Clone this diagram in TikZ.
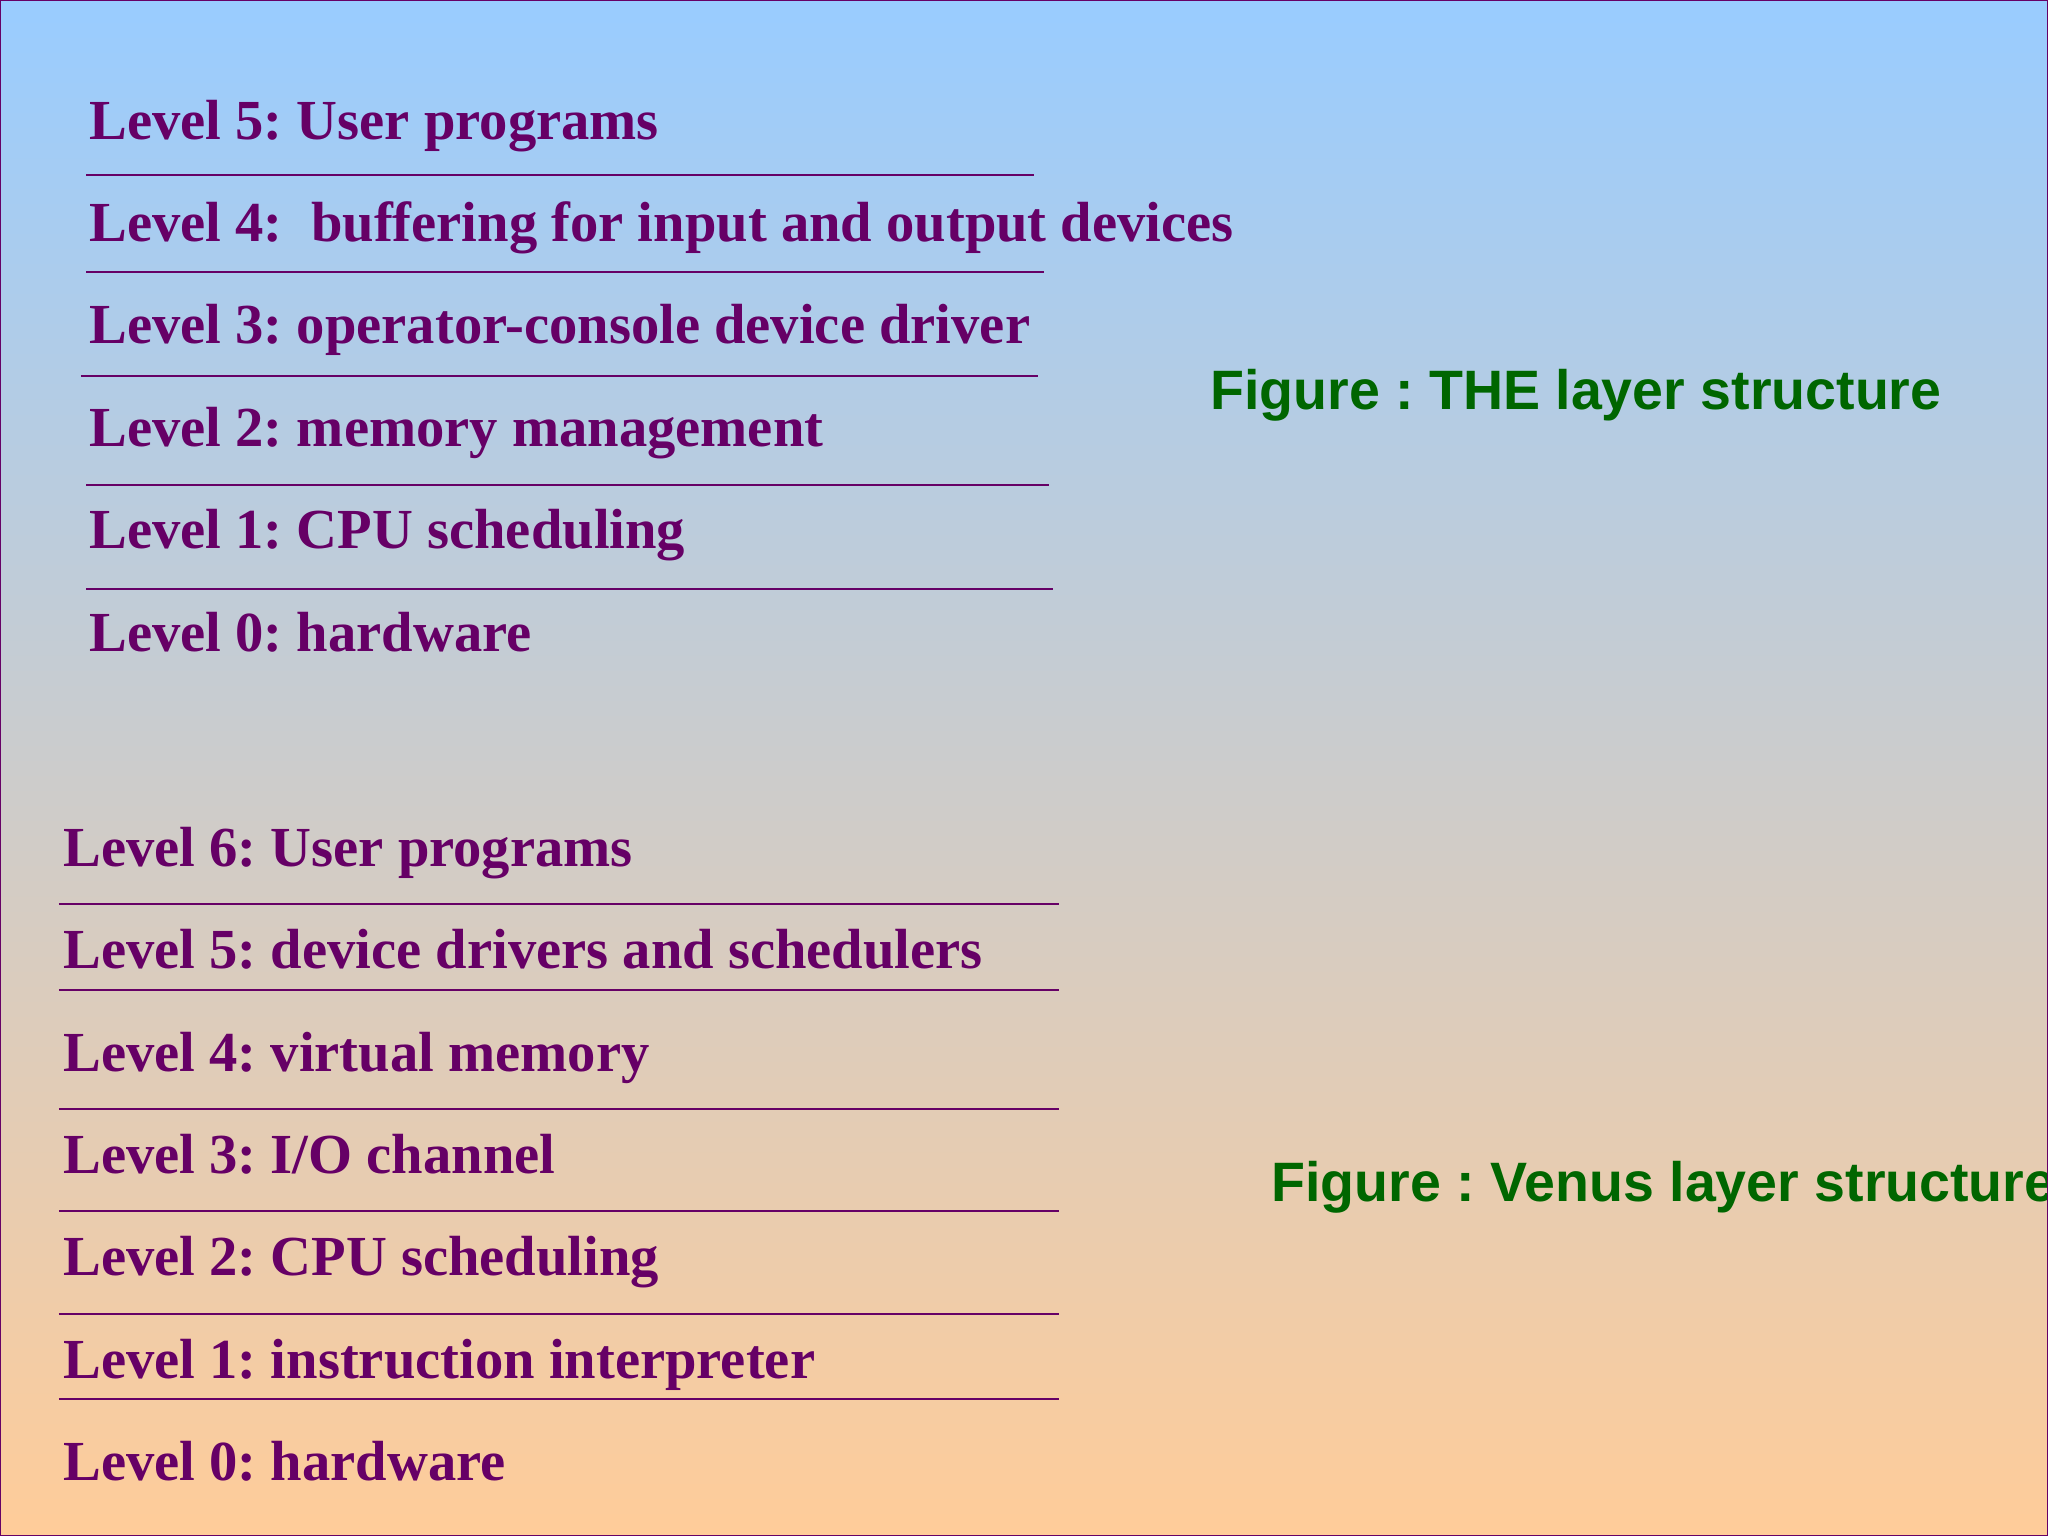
\documentclass[tikz,border=0pt]{standalone}
\usepackage{fontspec}
\setmainfont{Liberation Serif}
\newfontfamily\capfont{Liberation Sans}
\definecolor{lvl}{RGB}{102,0,102}
\definecolor{capg}{RGB}{0,102,0}
\definecolor{topc}{RGB}{153,204,255}
\definecolor{botc}{RGB}{255,204,153}
\frenchspacing
\begin{document}
\begin{tikzpicture}[x=0.013061cm,y=-0.013061cm,
  lv/.style={anchor=mid west,inner sep=0pt,text=lvl,font=\fontsize{16.1}{18}\selectfont\bfseries},
  figcap/.style={anchor=mid west,inner sep=0pt,text=capg,font=\capfont\fontsize{15.8}{18}\selectfont\bfseries},
  sep/.style={draw=lvl,line width=0.6pt}]
\useasboundingbox (0,0) rectangle (1568,1176);
\shade[top color=topc,bottom color=botc] (0,0) rectangle (1568,1176);
\begin{scope}
\clip (0,0) rectangle (1568,1176);
\node[lv] (a5) at (68,101) {Level 5: User programs};
\node[lv] (a4) at (68,179) {Level 4:\ \ buffering for input and output devices};
\node[lv] (a3) at (68,257) {Level 3: operator-console device driver};
\node[lv] (a2) at (68,336) {Level 2: memory management};
\node[lv] (a1) at (68,414) {Level 1: CPU scheduling};
\node[lv] (a0) at (68,493) {Level 0: hardware};
\draw[sep] (66,134) -- (792,134);
\draw[sep] (66,208) -- (799,208);
\draw[sep] (62,288) -- (795,288);
\draw[sep] (66,371) -- (803,371);
\draw[sep] (66,451) -- (806,451);
\node[lv] (b6) at (48,657) {Level 6: User programs};
\node[lv] (b5) at (48,735) {Level 5: device drivers and schedulers};
\node[lv] (b4) at (48,814) {Level 4: virtual memory};
\node[lv] (b3) at (48,892) {Level 3: I/O channel};
\node[lv] (b2) at (48,970) {Level 2: CPU scheduling};
\node[lv] (b1) at (48,1049) {Level 1: instruction interpreter};
\node[lv] (b0) at (48,1127) {Level 0: hardware};
\foreach \yy in {692,758,849,927,1006,1071} \draw[sep] (45,\yy) -- (811,\yy);
\node[figcap] (c1) at (926,307) {Figure : THE layer structure};
\node[figcap] (c2) at (973,914) {Figure : Venus layer structure};
\end{scope}
\draw[lvl,line width=0.8pt] (0,0) rectangle (1568,1176);
\end{tikzpicture}
\end{document}
